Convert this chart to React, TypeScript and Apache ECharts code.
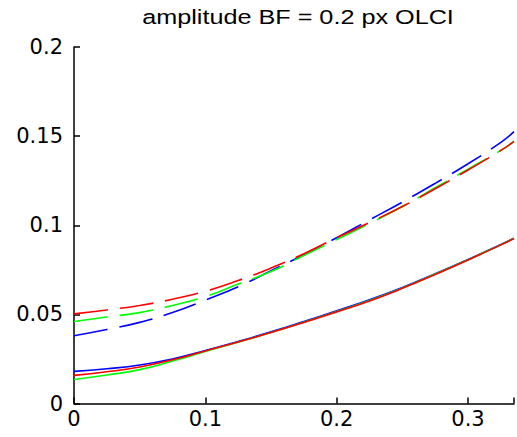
import React, { useEffect, useRef } from "react";
import * as echarts from "echarts";

const titleText = "amplitude BF = 0.2 px OLCI";
const xValues = [0, 0.025, 0.05, 0.075, 0.1, 0.125, 0.15, 0.175, 0.2, 0.225, 0.25, 0.275, 0.3, 0.325, 0.335];

const dashedRed = [0.0503, 0.0525, 0.055, 0.0585, 0.063, 0.069, 0.076, 0.084, 0.093, 0.1015, 0.1105, 0.1205, 0.131, 0.142, 0.147];
const dashedGreen = [0.046, 0.0485, 0.051, 0.055, 0.06, 0.067, 0.074, 0.083, 0.092, 0.101, 0.1105, 0.121, 0.1315, 0.142, 0.147];
const dashedBlue = [0.038, 0.0415, 0.0455, 0.051, 0.058, 0.0655, 0.0745, 0.0835, 0.093, 0.103, 0.113, 0.1235, 0.1345, 0.1465, 0.1525];

const solidRed = [0.0158, 0.0178, 0.0205, 0.0245, 0.0295, 0.0345, 0.0398, 0.0455, 0.0514, 0.0575, 0.0646, 0.0724, 0.0805, 0.089, 0.0925];
const solidGreen = [0.0135, 0.016, 0.019, 0.0238, 0.0292, 0.0344, 0.0398, 0.0456, 0.0516, 0.0578, 0.0648, 0.0726, 0.0806, 0.0891, 0.0926];
const solidBlue = [0.018, 0.0195, 0.0216, 0.025, 0.0297, 0.0348, 0.0402, 0.046, 0.052, 0.0582, 0.0651, 0.0728, 0.0808, 0.0892, 0.0927];

const xLabelMax = 0.3;

const pair = (ys: number[]) => xValues.map((x, i) => [x, ys[i]]);

export default function App() {
  const ref = useRef<HTMLDivElement>(null);
  useEffect(() => {
    document.body.style.margin = "0";
    if (!ref.current) return;
    const chart = echarts.init(ref.current, undefined, { renderer: "svg" });
    const dash = [34, 12];
    const mk = (name: string, ys: number[], color: string, dashed: boolean) => ({
      name,
      type: "line",
      data: pair(ys),
      smooth: true,
      showSymbol: false,
      symbol: "none",
      lineStyle: { color, width: 1.6, type: dashed ? dash : "solid" },
      clip: true,
    });
    chart.setOption({
      animation: false,
      backgroundColor: "#ffffff",
      graphic: [
        {
          type: "text",
          x: 298,
          y: 27,
          scaleX: 1.23,
          style: {
            text: titleText,
            font: "20.5px 'Liberation Sans', Arial, sans-serif",
            fill: "#000",
            textAlign: "center",
            textVerticalAlign: "bottom",
          },
        },
      ],
      grid: { left: 74, top: 47, right: 0, bottom: 33.5, containLabel: false },
      xAxis: {
        type: "value",
        min: 0,
        max: 0.335,
        interval: 0.1,
        axisLine: { show: true, lineStyle: { color: "#000", width: 1.5 } },
        axisTick: { show: true, inside: true, length: 6, lineStyle: { color: "#000", width: 1.5 } },
        axisLabel: {
          hideOverlap: false,
          showMaxLabel: true,
          formatter: (v: number) => (v > xLabelMax + 1e-9 ? "" : String(Math.round(v * 10) / 10)),
          color: "#000",
          fontFamily: "DejaVu Sans",
          fontSize: 21,
          margin: 5,
        },
        splitLine: { show: false },
      },
      yAxis: {
        type: "value",
        min: 0,
        max: 0.2,
        interval: 0.05,
        axisLine: { show: true, lineStyle: { color: "#000", width: 1.5 } },
        axisTick: { show: true, inside: true, length: 6, lineStyle: { color: "#000", width: 1.5 } },
        axisLabel: {
          color: "#000",
          fontFamily: "DejaVu Sans",
          fontSize: 21,
          margin: 11,
        },
        splitLine: { show: false },
      },
      series: [
        mk("dashed blue", dashedBlue, "#0000ff", true),
        mk("dashed green", dashedGreen, "#00ff00", true),
        mk("dashed red", dashedRed, "#ff0000", true),
        mk("solid blue", solidBlue, "#0000ff", false),
        mk("solid green", solidGreen, "#00ff00", false),
        mk("solid red", solidRed, "#ff0000", false),
      ],
    });
    return () => chart.dispose();
  }, []);
  return (
    <div
      ref={ref}
      style={{ position: "fixed", left: 0, top: 0, width: 517, height: 437, background: "#fff" }}
    />
  );
}
